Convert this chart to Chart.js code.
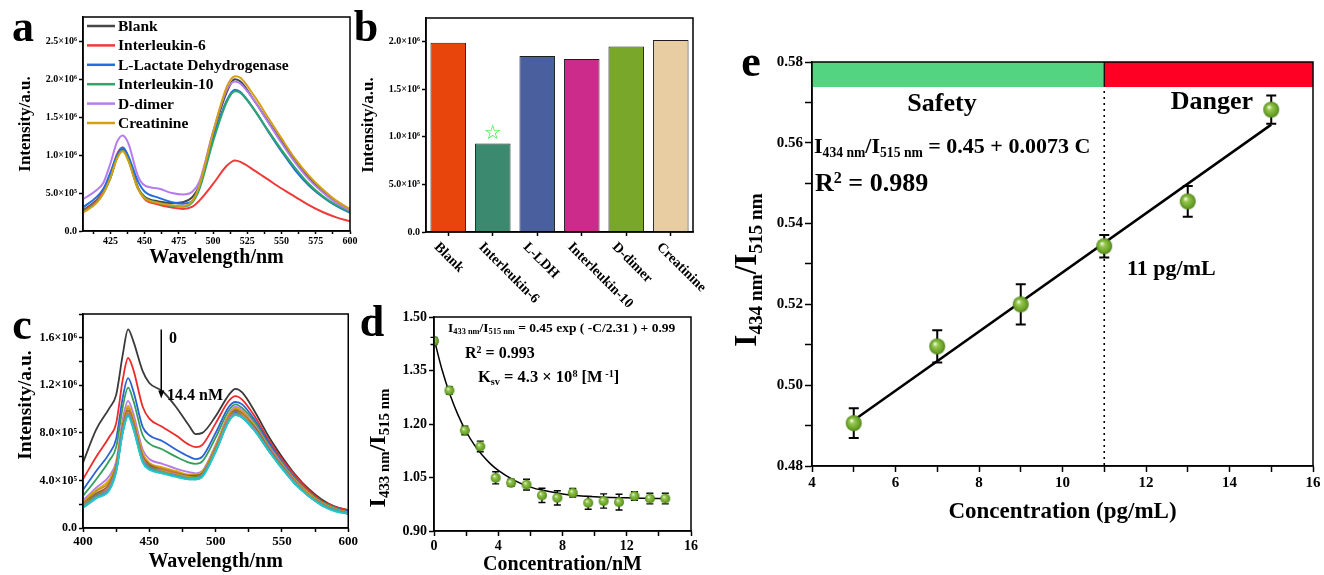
<!DOCTYPE html>
<html>
<head>
<meta charset="utf-8">
<title>IL-6 sensing figure</title>
<script src="https://cdn.jsdelivr.net/npm/chart.js@4.4.1/dist/chart.umd.min.js"></script>
<style>
  html, body { margin: 0; padding: 0; background: #fff; }
  body { position: relative; width: 1324px; height: 575px; overflow: hidden;
         font-family: 'Liberation Serif', 'Times New Roman', serif; font-weight: bold; color: #000; }
  .panel { position: absolute; }
  .panel canvas { display: block; }
  .txt { position: absolute; white-space: nowrap; line-height: 1; }
  .txt sub, .txt sup { font-size: 0.62em; position: relative; vertical-align: baseline; line-height: 0; }
  .txt sub { top: 0.3em; }
  .txt sup { top: -0.5em; }
</style>
</head>
<body>
<div class="panel" style="left:0;top:0"><canvas id="chartA" width="360" height="290"></canvas></div>
<div class="panel" style="left:340px;top:0"><canvas id="chartB" width="370" height="320"></canvas></div>
<div class="panel" style="left:0;top:290px"><canvas id="chartC" width="360" height="285"></canvas></div>
<div class="panel" style="left:355px;top:290px"><canvas id="chartD" width="345" height="285"></canvas></div>
<div class="panel" style="left:700px;top:30px"><canvas id="chartE" width="624" height="545"></canvas></div>
<script>
const FONT = "'Liberation Serif', 'Times New Roman', serif";

// ---- panel a : spectra with interferents (intensity in 10^6 a.u.)
const wavelengthA = [405,415,420,425,430,434,438,445,450,460,470,478,485,490,500,510,516,520,530,540,550,560,570,580,590,600];
const labelsA = ['Blank', 'Interleukin-6', 'L-Lactate Dehydrogenase', 'Interleukin-10', 'D-dimer', 'Creatinine'];
const colorsA = ['#474747', '#f03a3a', '#1f6fe0', '#2ea56a', '#b57cf0', '#d4a012'];
const blankA  = [0.27,0.41,0.52,0.70,0.98,1.07,0.95,0.57,0.45,0.39,0.37,0.38,0.45,0.60,1.28,1.83,2.00,1.97,1.72,1.45,1.18,0.92,0.70,0.52,0.38,0.28];
const il6A    = [0.26,0.40,0.53,0.75,1.02,1.10,0.98,0.58,0.42,0.35,0.31,0.29,0.32,0.40,0.62,0.86,0.93,0.91,0.80,0.68,0.56,0.45,0.34,0.25,0.18,0.13];
const lldhA   = [0.31,0.45,0.56,0.77,1.00,1.10,0.99,0.66,0.52,0.44,0.38,0.36,0.40,0.58,1.22,1.72,1.86,1.83,1.60,1.32,1.05,0.80,0.60,0.45,0.33,0.24];
const il10A   = [0.25,0.38,0.50,0.70,0.97,1.06,0.94,0.57,0.44,0.37,0.33,0.32,0.38,0.55,1.18,1.70,1.84,1.82,1.60,1.33,1.07,0.83,0.62,0.46,0.34,0.25];
const ddimerA = [0.42,0.54,0.64,0.89,1.18,1.26,1.16,0.73,0.60,0.56,0.50,0.48,0.52,0.65,1.31,1.86,1.97,1.94,1.72,1.44,1.16,0.90,0.68,0.51,0.37,0.27];
const creatA  = [0.24,0.37,0.50,0.70,0.96,1.05,0.93,0.56,0.43,0.37,0.34,0.33,0.40,0.60,1.30,1.90,2.04,2.02,1.78,1.50,1.22,0.95,0.73,0.55,0.40,0.29];

// ---- panel b : peak intensity (10^6 a.u.)
const catsB = ['Blank', 'Interleukin-6', 'L-LDH', 'Interleukin-10', 'D-dimer', 'Creatinine'];
const peakB = [1.99, 0.93, 1.85, 1.82, 1.95, 2.02];
const colorsB = ['#e8450c', '#3b8a6f', '#4a5f9e', '#cd2b8b', '#78a72a', '#e8cda3'];

// ---- panel c : titration spectra 0 -> 14.4 nM (10^6 a.u.)
const wavelengthC = [400,410,420,425,430,434,438,445,450,460,470,480,485,490,500,510,515,520,530,540,550,560,570,580,590,600];
const concC = ['0','0.96','1.92','2.88','3.84','4.8','5.76','6.72','7.68','8.64','9.6','10.56','11.52','12.48','13.44','14.4'];
const colorsC = ['#3a3a3a','#ee2b2b','#2a62d8','#32a05a','#b57be8','#d8b000','#c98a2a','#8b5a2b','#e06666','#6a8a2a','#c0a020','#5070c0','#d070c0','#70a070','#30a8c0','#20c8c8'];
const spectraC = [
  [0.55,0.83,1.01,1.12,1.46,1.67,1.57,1.32,1.22,1.15,1.02,0.86,0.79,0.80,0.94,1.12,1.17,1.14,0.97,0.77,0.60,0.45,0.33,0.24,0.18,0.15],
  [0.41,0.60,0.77,0.88,1.25,1.43,1.33,1.02,0.92,0.85,0.78,0.70,0.68,0.70,0.88,1.07,1.11,1.08,0.93,0.74,0.58,0.44,0.32,0.23,0.18,0.15],
  [0.32,0.48,0.63,0.75,1.10,1.26,1.15,0.85,0.78,0.73,0.66,0.60,0.58,0.60,0.80,1.02,1.06,1.04,0.90,0.72,0.56,0.42,0.30,0.22,0.17,0.14],
  [0.27,0.41,0.57,0.68,1.02,1.18,1.07,0.78,0.71,0.66,0.60,0.55,0.54,0.56,0.76,0.99,1.04,1.01,0.88,0.70,0.55,0.41,0.30,0.22,0.17,0.13],
  [0.23,0.34,0.44,0.56,0.92,1.07,0.96,0.66,0.58,0.54,0.50,0.47,0.46,0.48,0.70,0.96,1.02,0.99,0.86,0.69,0.54,0.40,0.29,0.21,0.16,0.13],
  [0.22,0.32,0.41,0.54,0.88,1.03,0.92,0.63,0.55,0.51,0.48,0.45,0.45,0.47,0.69,0.95,1.01,0.98,0.85,0.68,0.53,0.40,0.29,0.21,0.16,0.13],
  [0.21,0.31,0.39,0.53,0.87,1.01,0.90,0.61,0.54,0.50,0.47,0.44,0.44,0.46,0.68,0.94,1.00,0.97,0.84,0.68,0.53,0.39,0.28,0.21,0.16,0.13],
  [0.20,0.29,0.37,0.52,0.85,0.99,0.88,0.60,0.53,0.49,0.46,0.44,0.44,0.46,0.67,0.93,0.99,0.96,0.84,0.67,0.52,0.39,0.28,0.20,0.15,0.12],
  [0.20,0.28,0.36,0.51,0.84,0.98,0.87,0.59,0.52,0.49,0.46,0.43,0.43,0.45,0.67,0.93,0.98,0.96,0.83,0.67,0.52,0.39,0.28,0.20,0.15,0.12],
  [0.19,0.28,0.35,0.50,0.83,0.97,0.86,0.58,0.52,0.48,0.45,0.43,0.43,0.45,0.66,0.92,0.98,0.95,0.83,0.66,0.52,0.38,0.28,0.20,0.15,0.12],
  [0.19,0.27,0.35,0.50,0.83,0.97,0.86,0.58,0.51,0.48,0.45,0.43,0.42,0.45,0.66,0.92,0.97,0.95,0.82,0.66,0.51,0.38,0.28,0.20,0.15,0.12],
  [0.18,0.27,0.34,0.49,0.82,0.96,0.85,0.57,0.51,0.47,0.44,0.42,0.42,0.44,0.65,0.91,0.97,0.94,0.82,0.66,0.51,0.38,0.27,0.20,0.15,0.12],
  [0.18,0.26,0.34,0.49,0.82,0.96,0.85,0.57,0.50,0.47,0.44,0.42,0.42,0.44,0.65,0.91,0.96,0.94,0.82,0.65,0.51,0.38,0.27,0.20,0.15,0.12],
  [0.18,0.26,0.33,0.48,0.81,0.95,0.84,0.56,0.50,0.47,0.44,0.42,0.41,0.44,0.65,0.90,0.96,0.93,0.81,0.65,0.51,0.37,0.27,0.20,0.15,0.12],
  [0.17,0.25,0.33,0.48,0.81,0.95,0.84,0.56,0.50,0.46,0.44,0.41,0.41,0.44,0.64,0.90,0.95,0.93,0.81,0.65,0.50,0.37,0.27,0.19,0.15,0.12],
  [0.17,0.25,0.32,0.47,0.80,0.94,0.83,0.55,0.49,0.46,0.43,0.41,0.41,0.43,0.64,0.90,0.95,0.93,0.81,0.65,0.50,0.37,0.27,0.19,0.14,0.12]
];
// arrow annotation (wavelength, from, to in 10^6)
const arrowWlC = 459, arrowFromC = 1.67, arrowToC = 1.09;

// ---- panel d : ratio vs concentration
const concD  = [0,0.96,1.92,2.88,3.84,4.8,5.76,6.72,7.68,8.64,9.6,10.56,11.52,12.48,13.44,14.4];
const ratioD = [1.433,1.294,1.182,1.137,1.049,1.035,1.030,1.000,0.993,1.007,0.979,0.984,0.981,0.998,0.991,0.991];
const errD   = [0.010,0.010,0.012,0.015,0.017,0.010,0.015,0.020,0.020,0.012,0.018,0.020,0.022,0.012,0.015,0.015];
const fitXD  = [0,0.5,1,1.5,2,2.5,3,3.5,4,5,6,7,8,9,10,11,12,13,14.5];
const fitYD  = [1.440,1.352,1.282,1.225,1.179,1.142,1.113,1.089,1.070,1.042,1.023,1.012,1.004,0.999,0.996,0.994,0.993,0.992,0.991];

// ---- panel e : calibration in pg/mL
const concE  = [5, 7, 9, 11, 13, 15];
const ratioE = [0.4906, 0.5096, 0.5200, 0.5344, 0.5455, 0.5682];
const errE   = [0.0037, 0.0040, 0.0050, 0.0028, 0.0038, 0.0035];
const fitXE  = [5, 15];
const fitYE  = [0.4913, 0.5645];
const zoneStartE = [4, 11];
const zoneEndE   = [11, 16];
const zoneColorsE = ['#52d480', '#ff0025'];
const bandBottomE = 0.5738;
const limitE = 11;

Chart.defaults.font.family = FONT;
Chart.defaults.font.weight = 'bold';
Chart.defaults.color = '#000';
Chart.defaults.animation = false;

function sciTick(v) {
  if (Math.abs(v) < 1e-9) return '0.0';
  if (v < 0.999) return (v * 10).toFixed(1) + '×10⁵';
  return v.toFixed(1) + '×10⁶';
}
// label only every n-th step (minor ticks stay unlabeled)
function every(n, fmt) {
  return v => (Math.abs(v / n - Math.round(v / n)) < 1e-6 ? fmt(v) : '');
}

function axis(o) {
  return {
    type: o.type || 'linear',
    min: o.min, max: o.max,
    offset: !!o.offset,
    border: { display: true, color: '#000', width: 1.5 },
    grid: { display: true, drawOnChartArea: false, drawTicks: true, tickLength: o.tick || 4,
            tickWidth: 1.5, tickColor: '#000', offset: false },
    ticks: { stepSize: o.step, callback: o.fmt, autoSkip: false, maxRotation: 0, minRotation: 0,
             includeBounds: false, maxTicksLimit: 100, padding: o.pad == null ? 2 : o.pad,
             color: '#000', font: { family: FONT, weight: 'bold', size: o.size || 10 } },
    title: o.title ? { display: true, text: o.title, color: '#000', padding: o.titlePad,
                       font: { family: FONT, weight: 'bold', size: o.titleSize, lineHeight: o.titleLH || 1.2 } }
                   : { display: false },
    afterFit: o.fit
  };
}

const frame = {
  id: 'frame',
  afterDatasetsDraw(chart) {
    const a = chart.chartArea, ctx = chart.ctx;
    ctx.save();
    ctx.strokeStyle = '#000';
    ctx.lineWidth = 1.5;
    ctx.strokeRect(a.left, a.top, a.right - a.left, a.bottom - a.top);
    ctx.restore();
  }
};

function baseOptions(padding) {
  return {
    responsive: false,
    animation: false,
    events: [],
    layout: { padding: padding },
    plugins: { legend: { display: false }, tooltip: { enabled: false } }
  };
}

function sphere(r) {
  const c = document.createElement('canvas');
  c.width = c.height = 2 * r + 2;
  const g = c.getContext('2d');
  const m = r + 1;
  const grad = g.createRadialGradient(m - r * 0.3, m - r * 0.35, r * 0.05, m, m, r);
  grad.addColorStop(0, '#f2f9e6');
  grad.addColorStop(0.3, '#94c64c');
  grad.addColorStop(0.75, '#6da42a');
  grad.addColorStop(1, '#4f821a');
  g.fillStyle = grad;
  g.beginPath();
  g.arc(m, m, r, 0, Math.PI * 2);
  g.fill();
  return c;
}

function errorBars(xs, ys, errs, cap, width) {
  return {
    id: 'errorBars',
    beforeDatasetsDraw(chart) {
      const { ctx, scales: { x, y } } = chart;
      ctx.save();
      ctx.strokeStyle = '#000';
      ctx.lineWidth = width;
      xs.forEach((v, i) => {
        const px = x.getPixelForValue(v);
        const t = y.getPixelForValue(ys[i] + errs[i]);
        const b = y.getPixelForValue(ys[i] - errs[i]);
        ctx.beginPath();
        ctx.moveTo(px, t); ctx.lineTo(px, b);
        ctx.moveTo(px - cap, t); ctx.lineTo(px + cap, t);
        ctx.moveTo(px - cap, b); ctx.lineTo(px + cap, b);
        ctx.stroke();
      });
      ctx.restore();
    }
  };
}

// ===== chart a
const specA = [blankA, il6A, lldhA, il10A, ddimerA, creatA];
const insideLegend = {
  id: 'insideLegend',
  afterDraw(chart) {
    const ctx = chart.ctx, a = chart.chartArea;
    ctx.save();
    ctx.font = 'bold 15.5px ' + FONT;
    ctx.textBaseline = 'middle';
    ctx.fillStyle = '#000';
    chart.data.datasets.forEach((ds, i) => {
      const y = a.top + 9 + i * 19.4;
      ctx.strokeStyle = ds.borderColor;
      ctx.lineWidth = 2.5;
      ctx.beginPath();
      ctx.moveTo(a.left + 4, y);
      ctx.lineTo(a.left + 32, y);
      ctx.stroke();
      ctx.fillText(ds.label, a.left + 35, y + 1);
    });
    ctx.restore();
  }
};

new Chart(document.getElementById('chartA'), {
  type: 'line',
  data: {
    datasets: labelsA.map((lab, i) => ({
      label: lab,
      data: wavelengthA.map((w, j) => ({ x: w, y: specA[i][j] })),
      borderColor: colorsA[i],
      borderWidth: 2,
      pointRadius: 0,
      cubicInterpolationMode: 'monotone',
      order: labelsA.length - i
    }))
  },
  options: Object.assign(baseOptions({ top: 17, right: 10, left: 0, bottom: 0 }), {
    scales: {
      x: axis({ min: 405, max: 600, step: 12.5, size: 10, tick: 3, pad: 1, fmt: every(25, v => String(v)),
                title: 'Wavelength/nm', titleSize: 20, titlePad: { top: 0, bottom: 20 },
                fit: s => { s.height = 59; } }),
      y: axis({ min: 0, max: 2.82, step: 0.5, size: 10, fmt: sciTick,
                title: 'Intensity/a.u.', titleSize: 17, titlePad: { top: 15, bottom: 0 },
                fit: s => { s.width = 83; } })
    }
  }),
  plugins: [frame, insideLegend]
});

// ===== chart b
const starIndexB = 1;
const barLabels = {
  id: 'barLabels',
  afterDraw(chart) {
    const { ctx, scales: { x, y } } = chart;
    ctx.save();
    ctx.fillStyle = '#000';
    ctx.font = 'bold 14px ' + FONT;
    ctx.textBaseline = 'middle';
    ctx.textAlign = 'left';
    catsB.forEach((c, i) => {
      ctx.save();
      ctx.translate(x.getPixelForValue(i) - 12, x.top + 13);
      ctx.rotate(Math.PI / 4);
      ctx.fillText(c, 0, 0);
      ctx.restore();
    });
    ctx.fillStyle = '#2ee82e';
    ctx.font = '20px "DejaVu Sans", sans-serif';
    ctx.textAlign = 'center';
    ctx.fillText('☆', x.getPixelForValue(starIndexB), y.getPixelForValue(peakB[starIndexB]) - 10);
    ctx.restore();
  }
};

new Chart(document.getElementById('chartB'), {
  type: 'bar',
  data: {
    labels: catsB,
    datasets: [{
      data: peakB,
      backgroundColor: colorsB,
      borderColor: '#1e1e1e',
      borderWidth: 1,
      barPercentage: 0.8,
      categoryPercentage: 1
    }]
  },
  options: Object.assign(baseOptions({ top: 18, right: 17, left: 0, bottom: 0 }), {
    scales: {
      x: axis({ type: 'category', offset: true, fmt: () => '', fit: s => { s.height = 88; } }),
      y: axis({ min: 0, max: 2.25, step: 0.5, size: 10, fmt: sciTick,
                title: 'Intensity/a.u.', titleSize: 17, titlePad: { top: 18, bottom: 0 },
                fit: s => { s.width = 86; } })
    }
  }),
  plugins: [frame, barLabels]
});

// ===== chart c
const arrowC = {
  id: 'arrowC',
  afterDatasetsDraw(chart) {
    const { ctx, scales: { x, y } } = chart;
    const px = x.getPixelForValue(arrowWlC);
    const y0 = y.getPixelForValue(arrowFromC), y1 = y.getPixelForValue(arrowToC);
    ctx.save();
    ctx.strokeStyle = '#000';
    ctx.fillStyle = '#000';
    ctx.lineWidth = 1.5;
    ctx.beginPath();
    ctx.moveTo(px, y0);
    ctx.lineTo(px, y1 - 6);
    ctx.stroke();
    ctx.beginPath();
    ctx.moveTo(px, y1);
    ctx.lineTo(px - 3, y1 - 8);
    ctx.lineTo(px + 3, y1 - 8);
    ctx.closePath();
    ctx.fill();
    ctx.restore();
  }
};

new Chart(document.getElementById('chartC'), {
  type: 'line',
  data: {
    datasets: spectraC.map((s, i) => ({
      label: concC[i] + ' nM',
      data: wavelengthC.map((w, j) => ({ x: w, y: s[j] })),
      borderColor: colorsC[i],
      borderWidth: 1.8,
      pointRadius: 0,
      cubicInterpolationMode: 'monotone',
      order: spectraC.length - i
    }))
  },
  options: Object.assign(baseOptions({ top: 24, right: 10, left: 0, bottom: 0 }), {
    scales: {
      x: axis({ min: 400, max: 600, step: 25, size: 13, fmt: every(50, v => String(v)),
                title: 'Wavelength/nm', titleSize: 20, titlePad: { top: 0, bottom: 1 },
                fit: s => { s.height = 47; } }),
      y: axis({ min: 0, max: 1.8, step: 0.2, size: 12, fmt: every(0.4, sciTick),
                fit: s => { s.width = 83; } })
    }
  }),
  plugins: [frame, arrowC]
});

// ===== chart d
new Chart(document.getElementById('chartD'), {
  type: 'line',
  data: {
    datasets: [
      {
        label: 'data',
        data: concD.map((c, i) => ({ x: c, y: ratioD[i] })),
        showLine: false,
        pointStyle: sphere(5),
        pointRadius: 5,
        order: 0
      },
      {
        label: 'fit',
        data: fitXD.map((c, i) => ({ x: c, y: fitYD[i] })),
        borderColor: '#000',
        borderWidth: 1.5,
        pointRadius: 0,
        cubicInterpolationMode: 'monotone',
        order: 1
      }
    ]
  },
  options: Object.assign(baseOptions({ top: 27, right: 8, left: 0, bottom: 0 }), {
    scales: {
      x: axis({ min: 0, max: 16, step: 2, size: 14, tick: 5, fmt: every(4, v => String(v)),
                title: 'Concentration/nM', titleSize: 20, titleLH: 1, titlePad: { top: 0, bottom: 0 },
                fit: s => { s.height = 44; } }),
      y: axis({ min: 0.9, max: 1.5, step: 0.15, size: 14, tick: 5, fmt: v => v.toFixed(2),
                fit: s => { s.width = 79; } })
    }
  }),
  plugins: [frame, errorBars(concD, ratioD, errD, 3.5, 1.4)]
});

// ===== chart e
const zones = {
  id: 'zones',
  beforeDatasetsDraw(chart) {
    const { ctx, chartArea: a, scales: { x, y } } = chart;
    const yTop = y.getPixelForValue(y.max), yBot = y.getPixelForValue(bandBottomE);
    ctx.save();
    zoneStartE.forEach((s, i) => {
      const x0 = x.getPixelForValue(s), x1 = x.getPixelForValue(zoneEndE[i]);
      ctx.fillStyle = zoneColorsE[i];
      ctx.fillRect(x0, yTop, x1 - x0, yBot - yTop);
    });
    const xt = x.getPixelForValue(limitE);
    ctx.strokeStyle = '#000';
    ctx.lineWidth = 1.2;
    ctx.beginPath();
    ctx.moveTo(xt, yTop);
    ctx.lineTo(xt, yBot);
    ctx.stroke();
    ctx.setLineDash([2, 4]);
    ctx.lineWidth = 1.6;
    ctx.beginPath();
    ctx.moveTo(xt, yBot + 4);
    ctx.lineTo(xt, a.bottom);
    ctx.stroke();
    ctx.restore();
  }
};

new Chart(document.getElementById('chartE'), {
  type: 'line',
  data: {
    datasets: [
      {
        label: 'data',
        data: concE.map((c, i) => ({ x: c, y: ratioE[i] })),
        showLine: false,
        pointStyle: sphere(8),
        pointRadius: 8,
        order: 0
      },
      {
        label: 'fit',
        data: fitXE.map((c, i) => ({ x: c, y: fitYE[i] })),
        borderColor: '#000',
        borderWidth: 2.5,
        pointRadius: 0,
        order: 1
      }
    ]
  },
  options: Object.assign(baseOptions({ top: 32, right: 11, left: 0, bottom: 0 }), {
    scales: {
      x: axis({ min: 4, max: 16, step: 1, size: 15, tick: 6, fmt: every(2, v => String(v)),
                title: 'Concentration (pg/mL)', titleSize: 23, titlePad: { top: 0, bottom: 49 },
                fit: s => { s.height = 109; } }),
      y: axis({ min: 0.48, max: 0.58, step: 0.01, size: 15, tick: 7,
                fmt: every(0.02, v => v.toFixed(2)),
                fit: s => { s.width = 112; } })
    }
  }),
  plugins: [zones, frame, errorBars(concE, ratioE, errE, 5, 2)]
});

// ===== text overlays (letters, annotations, rich axis titles)
function put(html, x, base, size, align) {
  const d = document.createElement('div');
  d.className = 'txt';
  d.innerHTML = html;
  d.style.fontSize = size + 'px';
  d.style.left = x + 'px';
  d.style.top = (base - 0.84 * size) + 'px';
  if (align === 'center') d.style.transform = 'translateX(-50%)';
  document.body.appendChild(d);
}
function putRot(html, cx, cy, size) {
  const d = document.createElement('div');
  d.className = 'txt';
  d.innerHTML = html;
  d.style.fontSize = size + 'px';
  d.style.left = cx + 'px';
  d.style.top = cy + 'px';
  d.style.transform = 'translate(-50%, -50%) rotate(-90deg)';
  document.body.appendChild(d);
}

put('a', 23, 42, 44, 'center');
put('b', 366, 42, 44, 'center');
put('c', 22, 340, 44, 'center');
put('d', 372, 337, 44, 'center');
put('e', 751, 77, 44, 'center');

put('0', 169, 343, 16);
put('14.4 nM', 167, 400, 16);
putRot('Intensity/a.u.', 25, 405, 19.5);

put('I<sub>433 nm</sub>/I<sub>515 nm</sub> = 0.45 exp ( -C/2.31 ) + 0.99', 448, 332, 13.5);
put('R<sup>2</sup> = 0.993', 465, 358, 16);
put('K<sub>sv</sub> = 4.3 × 10<sup>8</sup> [M<sup> -1</sup>]', 478, 383, 16.5);
putRot('I<sub>433 nm</sub>/I<sub>515 nm</sub>', 377, 448, 24);

put('Safety', 942, 112, 26, 'center');
put('Danger', 1212, 110, 26, 'center');
put('I<sub>434 nm</sub>/I<sub>515 nm</sub> = 0.45 + 0.0073 C', 814, 153, 22);
put('R<sup>2</sup> = 0.989', 815, 192, 26);
put('11 pg/mL', 1127, 275, 22);
putRot('I<sub>434 nm</sub>/I<sub>515 nm</sub>', 745, 270, 31);
</script>
</body>
</html>
